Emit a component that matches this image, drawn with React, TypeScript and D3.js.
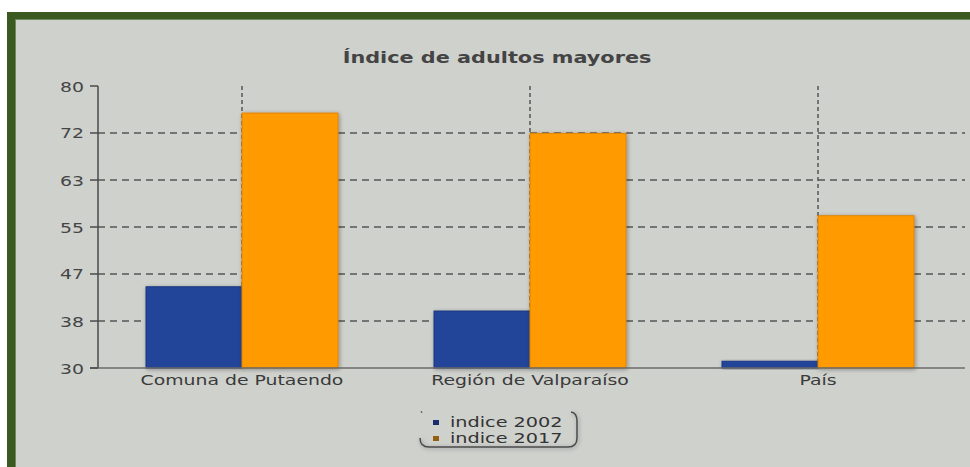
import React from "react";
import * as d3 from "d3";

const categories = ["Comuna de Putaendo", "Región de Valparaíso", "País"];
const series2002 = [44.4, 40.1, 31.2];
const series2017 = [75.2, 71.6, 57.0];
const seriesNames = ["indice 2002", "indice 2017"];
const tickValues = [30, 38.33, 46.67, 55, 63.33, 71.67, 80];
const tickLabels = ["30", "38", "47", "55", "63", "72", "80"];

const W = 970;
const H = 467;
const SX = 1.3;
const FONT = "'DejaVu Sans', Verdana, sans-serif";

export default function App() {
  const x = d3.scaleBand<string>().domain(categories).range([98, 962]).paddingInner(0).paddingOuter(0);
  const inner = d3.scaleBand<string>().domain(seriesNames).range([0, x.bandwidth()]).paddingInner(0).paddingOuter(0.5);
  const y = d3.scaleLinear().domain([30, 80]).range([368, 86]);
  const colors = ["#21449a", "#ff9b00"];
  const strokes = ["#1a3780", "#e08400"];
  const legendColors = ["#1b2c6c", "#94600f"];
  const data = [series2002, series2017];

  const stretchText = (
    tx: number,
    ty: number,
    text: string,
    anchor: string,
    size: number,
    weight: string | number = "normal",
    fill = "#404040",
    key?: string
  ) => (
    <g key={key} transform={`translate(${tx},${ty}) scale(${SX},1)`}>
      <text
        x={0}
        y={0}
        textAnchor={anchor as any}
        fontFamily={FONT}
        fontSize={size}
        fontWeight={weight}
        fill={fill}
      >
        {text}
      </text>
    </g>
  );

  return (
    <div style={{ position: "absolute", left: 0, top: 0 }}>
      <svg width={W} height={H} viewBox={`0 0 ${W} ${H}`} style={{ display: "block" }}>
        <defs>
          <filter id="shadow" x="-20%" y="-20%" width="140%" height="140%">
            <feDropShadow dx="1" dy="1" stdDeviation="2" floodColor="#000" floodOpacity="0.35" />
          </filter>
        </defs>
        <rect x={0} y={0} width={W} height={H} fill="#ffffff" />
        <rect x={7} y={12} width={W} height={H} fill="#3b5a22" />
        <rect x={15} y={19} width={W} height={H} fill="#6f8a5a" />
        <rect x={16} y={20} width={W} height={H} fill="#cfd1cd" />

        {/* title */}
        {stretchText(497, 63, "Índice de adultos mayores", "middle", 16, "bold", "#444")}

        {/* horizontal grid */}
        {tickValues.slice(1, 6).map((t, i) => (
          <line
            key={"g" + i}
            x1={98}
            x2={965}
            y1={y(t)}
            y2={y(t)}
            stroke="#555"
            strokeWidth={1.5}
            strokeDasharray="7,5"
          />
        ))}
        {/* vertical grid at category centers */}
        {categories.map((c) => (
          <line
            key={"v" + c}
            x1={x(c)! + x.bandwidth() / 2}
            x2={x(c)! + x.bandwidth() / 2}
            y1={y(80)}
            y2={y(30)}
            stroke="#555"
            strokeWidth={1.5}
            strokeDasharray="4,3"
          />
        ))}

        {/* bars */}
        {categories.map((c, ci) =>
          seriesNames.map((s, si) => {
            const v = data[si][ci];
            const bx = x(c)! + inner(s)!;
            return (
              <rect
                key={c + s}
                x={bx}
                y={y(v)}
                width={inner.bandwidth()}
                height={y(30) - y(v)}
                fill={colors[si]}
                stroke={strokes[si]}
                strokeWidth={1}
                filter="url(#shadow)"
              />
            );
          })
        )}

        {/* axes */}
        <line x1={98} x2={98} y1={y(80)} y2={y(30)} stroke="#4a4a4a" strokeWidth={1.5} />
        <line x1={90} x2={965} y1={y(30)} y2={y(30)} stroke="#6a6a6a" strokeWidth={1.5} />
        {tickValues.map((t, i) => (
          <g key={"t" + i}>
            <line x1={90} x2={98} y1={y(t)} y2={y(t)} stroke="#4a4a4a" strokeWidth={1.5} />
            {stretchText(84, y(t) + 5.5, tickLabels[i], "end", 14.5, "normal", "#454545")}
          </g>
        ))}
        {categories.map((c) =>
          stretchText(x(c)! + x.bandwidth() / 2, 385, c, "middle", 14.5, "normal", "#3a3a3a", "c" + c)
        )}

        {/* legend */}
        <g>
          <path
            d="M420,438 Q420,447 429,447 L568,447 Q577,447 577,438 L577,421 Q577,413 571,412"
            fill="none"
            stroke="#4a4a4a"
            strokeWidth={1.5}
            filter="url(#shadow)"
          />
          <line x1={421} y1={411} x2={422} y2={413} stroke="#4a4a4a" strokeWidth={1} />
          {seriesNames.map((s, i) => (
            <g key={"l" + s}>
              <rect x={433} y={420 + i * 16} width={6} height={5} fill={legendColors[i]} />
              {stretchText(450, 427 + i * 16, s, "start", 14.8, "normal", "#333")}
            </g>
          ))}
        </g>
      </svg>
    </div>
  );
}
